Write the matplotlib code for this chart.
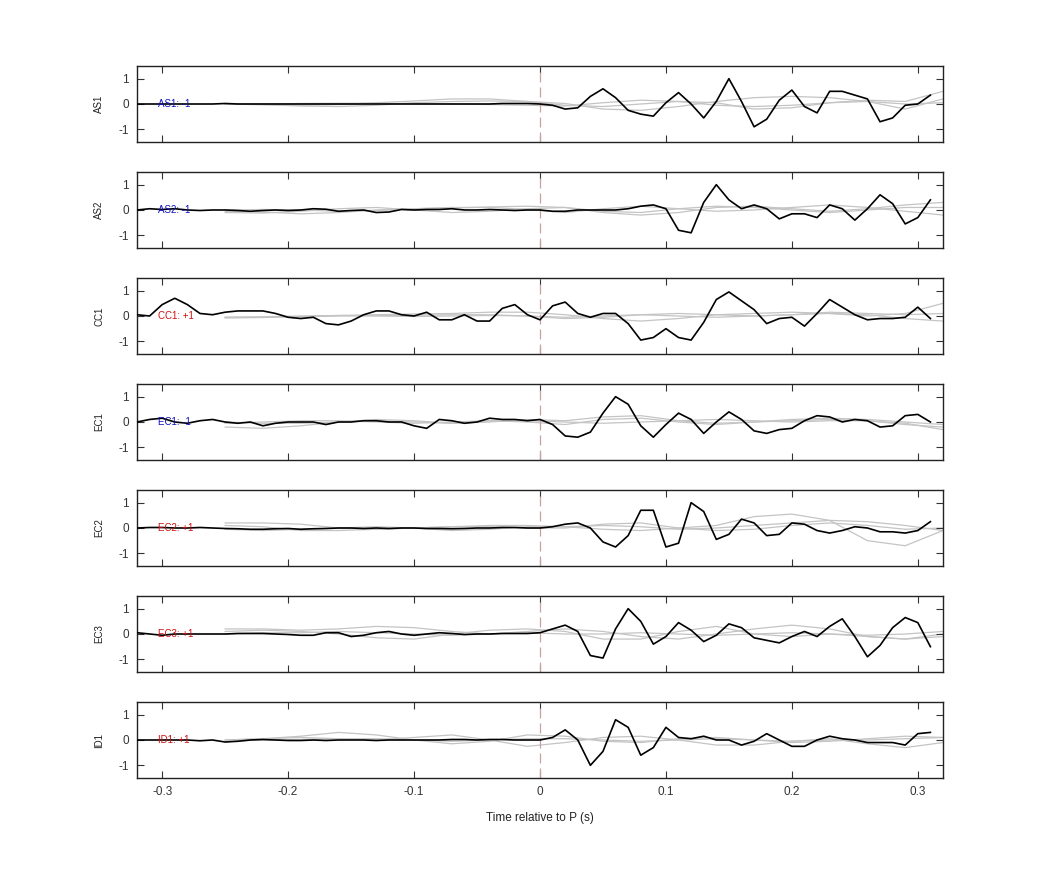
import numpy as np
import matplotlib
matplotlib.use("Agg")
import matplotlib.pyplot as plt

plt.rcParams['font.family'] = ['Liberation Sans', 'DejaVu Sans']

t = np.round(np.arange(-0.32, 0.315, 0.01), 2)          # 64 samples
tg = np.round(np.arange(-0.25, 0.33, 0.03), 2)          # gray trace samples

stations = ["AS1", "AS2", "CC1", "EC1", "EC2", "EC3", "ID1"]
polarity = ["-1", "-1", "+1", "-1", "+1", "+1", "+1"]

pre = {
 "AS1": [0,0,0,0,0,0,0,0.02,0,0,0,0,0,0,0,0,0,0,0,0,0,0,0,0,0,0,0,0,0,0.02,0.02,0.02],
 "AS2": [0,0.05,0.02,0.05,0.0,-0.02,0,0,-0.02,-0.05,-0.02,0,-0.02,0,0.05,0.03,-0.05,-0.02,0,-0.1,-0.08,0.02,0,0.02,0.02,0.05,0.0,0.0,0.02,0.0,-0.02,0.0],
 "CC1": [0.05,0.0,0.45,0.7,0.45,0.1,0.05,0.15,0.2,0.2,0.2,0.1,-0.05,-0.1,-0.05,-0.3,-0.35,-0.2,0.05,0.2,0.2,0.05,0.0,0.15,-0.15,-0.15,0.05,-0.2,-0.2,0.3,0.45,0.05],
 "EC1": [0.0,0.1,0.15,0.0,-0.05,0.05,0.1,0.0,-0.05,0.0,-0.15,-0.05,0.0,0.0,0.0,-0.1,0.0,0.0,0.05,0.05,0.0,0.0,-0.15,-0.25,0.1,0.05,-0.05,0.0,0.15,0.1,0.1,0.05],
 "EC2": [0.0,0.02,0.02,0.0,0.0,0.02,0.0,-0.02,-0.03,-0.05,-0.05,-0.03,-0.02,-0.05,-0.03,-0.02,0,0.0,-0.02,0.0,-0.02,0.0,0.0,-0.02,-0.02,-0.03,-0.02,0.0,0.0,0.02,0.02,0.0],
 "EC3": [0.05,0.0,-0.05,0.0,0.0,0.0,0.0,0.0,0.02,0.02,0.02,0.0,-0.02,-0.05,-0.05,0.05,0.05,-0.1,-0.05,0.05,0.1,0.0,-0.05,0.0,0.05,0.02,-0.02,0.0,0.0,0.02,0.02,0.02],
 "ID1": [0.0,0.0,0.0,0.0,0.0,-0.03,0.0,-0.08,-0.05,0.0,0.02,0.0,-0.02,-0.02,0.0,-0.02,0.0,0.0,0.0,-0.02,0.0,0.0,0.0,0.0,0.0,0.02,0.02,0.0,0.02,0.02,0.0,0.0],
}
post = {
 "AS1": [0.0,-0.05,-0.2,-0.15,0.3,0.6,0.25,-0.25,-0.4,-0.48,0.05,0.45,0.0,-0.55,0.1,1.0,0.1,-0.9,-0.6,0.15,0.55,-0.1,-0.35,0.5,0.5,0.35,0.2,-0.7,-0.55,-0.05,0.0,0.35],
 "AS2": [0.0,-0.05,-0.05,0.0,0.0,0.0,0.0,0.05,0.15,0.2,0.05,-0.8,-0.9,0.3,1.0,0.4,0.05,0.2,0.05,-0.35,-0.15,-0.15,-0.3,0.2,0.05,-0.4,0.05,0.6,0.25,-0.55,-0.3,0.4],
 "CC1": [-0.15,0.4,0.55,0.1,-0.05,0.1,0.1,-0.3,-0.95,-0.85,-0.5,-0.85,-0.95,-0.25,0.65,0.95,0.6,0.25,-0.3,-0.1,-0.05,-0.4,0.1,0.65,0.35,0.05,-0.15,-0.1,-0.1,-0.05,0.35,-0.1],
 "EC1": [0.1,-0.1,-0.55,-0.6,-0.4,0.35,1.0,0.7,-0.15,-0.6,-0.1,0.35,0.1,-0.45,0.0,0.4,0.1,-0.35,-0.45,-0.3,-0.25,0.05,0.25,0.2,0.0,0.1,0.05,-0.2,-0.15,0.25,0.3,0.0],
 "EC2": [0.0,0.05,0.15,0.2,0.0,-0.55,-0.75,-0.3,0.7,0.7,-0.75,-0.6,1.0,0.65,-0.45,-0.25,0.35,0.2,-0.3,-0.25,0.2,0.15,-0.1,-0.2,-0.1,0.05,0.0,-0.15,-0.15,-0.2,-0.1,0.25],
 "EC3": [0.05,0.2,0.35,0.1,-0.85,-0.95,0.2,1.0,0.5,-0.4,-0.1,0.45,0.15,-0.3,-0.05,0.4,0.25,-0.15,-0.25,-0.35,-0.1,0.1,-0.1,0.3,0.6,-0.1,-0.9,-0.45,0.25,0.65,0.45,-0.5],
 "ID1": [0.0,0.1,0.4,0.0,-1.0,-0.45,0.8,0.5,-0.6,-0.3,0.5,0.1,0.05,0.15,0.0,0.0,-0.2,-0.05,0.25,0.0,-0.25,-0.25,0.0,0.15,0.05,0.0,-0.1,-0.1,-0.1,-0.2,0.25,0.3],
}

# gray (synthetic) traces, sampled every 0.03 s from -0.25 s
gray = {
 "AS1": [[0,-0.02,-0.08,-0.1,-0.05,0.05,0.1,0.12,0.1,0.02,-0.2,-0.25,-0.1,0.1,0.25,0.3,0.25,0.1,-0.2,0.2],
         [0,0.0,0.02,0.03,0.03,0.02,0.0,-0.02,-0.05,-0.08,0.05,0.15,0.1,-0.05,-0.1,-0.05,0.05,0.15,0.1,0.5],
         [0,-0.03,-0.05,-0.02,0.05,0.12,0.2,0.2,0.1,-0.05,-0.1,0.0,0.1,0.05,-0.2,-0.15,0.05,0.1,0.0,0.05]],
 "AS2": [[-0.1,-0.12,-0.05,0.05,0.1,0.0,-0.1,-0.05,0.05,0.1,-0.1,-0.2,-0.1,0.1,0.15,0.05,-0.05,0.05,0.2,0.3],
         [0,0.02,0.0,-0.05,-0.02,0.05,0.1,0.1,0.02,-0.1,0.05,0.15,0.05,-0.05,0.0,0.1,0.2,0.1,-0.05,-0.2],
         [-0.05,-0.08,-0.15,-0.1,0.0,0.05,0.08,0.12,0.15,0.1,-0.05,-0.1,0.05,0.15,0.1,0.0,-0.1,0.0,0.1,0.1]],
 "CC1": [[-0.05,-0.05,-0.03,0.0,0.02,0.03,0.05,0.05,0.0,-0.1,-0.05,0.05,0.1,0.05,0.0,0.05,0.1,0.05,-0.1,-0.2],
         [-0.08,-0.06,-0.02,0.02,0.05,0.08,0.1,0.15,0.15,0.05,-0.1,-0.2,-0.1,0.05,0.1,0.15,0.1,0.0,0.1,0.5],
         [-0.05,-0.03,0.0,0.02,0.0,-0.02,0.0,0.02,0.0,-0.05,0.0,0.05,0.0,-0.05,0.0,0.05,0.15,0.1,0.05,0.1]],
 "EC1": [[-0.2,-0.25,-0.15,0.0,0.1,0.05,-0.05,0.0,0.1,0.05,0.2,0.25,0.05,-0.05,0.0,0.05,0.1,0.05,-0.1,-0.2],
         [-0.05,0.0,0.05,0.05,0.0,-0.05,0.0,0.05,0.0,-0.1,0.1,0.15,0.0,-0.1,0.0,0.1,0.15,0.1,0.0,-0.1],
         [0.0,-0.05,-0.05,0.0,0.05,0.0,-0.05,0.05,0.05,0.0,-0.05,0.0,0.05,0.1,0.05,0.0,0.05,0.05,-0.05,-0.3]],
 "EC2": [[0.2,0.2,0.15,0.0,-0.05,0.0,0.05,0.05,0.0,0.0,0.15,0.2,0.0,-0.1,-0.05,0.1,0.2,0.1,-0.05,0.0],
         [0.1,0.05,-0.1,-0.1,-0.05,0.0,0.05,0.1,0.1,0.05,-0.05,-0.1,0.0,0.1,0.45,0.55,0.3,-0.5,-0.7,-0.1],
         [-0.05,-0.1,-0.05,0.0,0.05,0.0,-0.1,-0.05,0.05,0.05,0.1,0.05,-0.05,0.0,0.1,0.2,0.3,0.25,0.1,-0.1]],
 "EC3": [[0.2,0.2,0.15,0.2,0.3,0.25,0.1,0.0,0.1,0.2,0.1,-0.1,-0.2,0.0,0.2,0.35,0.2,-0.1,-0.2,0.0],
         [0.1,0.15,0.1,0.0,-0.15,-0.2,0.0,0.15,0.2,0.1,-0.2,-0.2,0.1,0.3,0.0,-0.1,0.0,-0.1,-0.2,-0.1],
         [0.0,0.05,0.05,0.1,0.05,0.0,-0.05,0.0,0.05,0.0,0.0,0.05,0.0,-0.05,0.0,0.05,0.0,-0.05,0.0,0.1]],
 "ID1": [[0.0,0.05,0.15,0.3,0.2,0.0,-0.15,-0.05,0.2,0.15,-0.05,-0.1,0.05,0.1,0.0,-0.1,-0.05,0.05,0.15,0.1],
         [0.0,0.05,0.1,0.05,0.0,0.1,0.2,0.0,-0.25,-0.1,0.1,0.15,0.0,-0.2,-0.2,-0.05,0.05,-0.15,-0.3,-0.1],
         [-0.05,0.0,0.02,0.05,0.05,0.0,-0.05,0.0,0.05,0.05,0.0,-0.05,0.0,0.05,0.0,-0.05,0.0,0.0,0.05,0.1]],
}

fig = plt.figure(figsize=(10.42, 8.75), dpi=100)
W, H = 1042, 875
for i, st in enumerate(stations):
    top = 66 + 106 * i
    ax = fig.add_axes([137 / W, 1 - (top + 76) / H, 806 / W, 76 / H])
    for g in gray[st]:
        ax.plot(tg, g, color="#c4c4c4", lw=0.9, zorder=1)
    ax.plot(t, pre[st] + post[st], color="black", lw=1.2, zorder=3)
    ax.axvline(0, color="#c8a0a0", lw=0.9, ls=(0, (8, 4)), zorder=2)
    col = "#1010c0" if polarity[i] == "-1" else "#d01010"
    ax.text(-0.303, 0, f"{st}: {polarity[i]}", color=col, fontsize=7, va="center", ha="left", zorder=4)
    ax.set_xlim(-0.32, 0.32)
    ax.set_ylim(-1.5, 1.5)
    ax.set_yticks([-1, 0, 1])
    ax.set_xticks([-0.3, -0.2, -0.1, 0, 0.1, 0.2, 0.3])
    ax.tick_params(direction="in", top=True, right=True, length=5, labelsize=8.5,
                   colors="#333333", labelcolor="#333333", pad=6)
    ax.set_yticklabels(["-1", "0", "1"])
    if i < len(stations) - 1:
        ax.set_xticklabels([])
    else:
        ax.set_xticklabels(["-0.3", "-0.2", "-0.1", "0", "0.1", "0.2", "0.3"])
        ax.set_xlabel("Time relative to P (s)", fontsize=8.5, color="#222222", labelpad=10)
    ax.set_ylabel(st, fontsize=7, color="#222222", labelpad=10)
    for s in ax.spines.values():
        s.set_linewidth(1.0)
        s.set_color("#222222")

fig.savefig("out.png", dpi=100)
